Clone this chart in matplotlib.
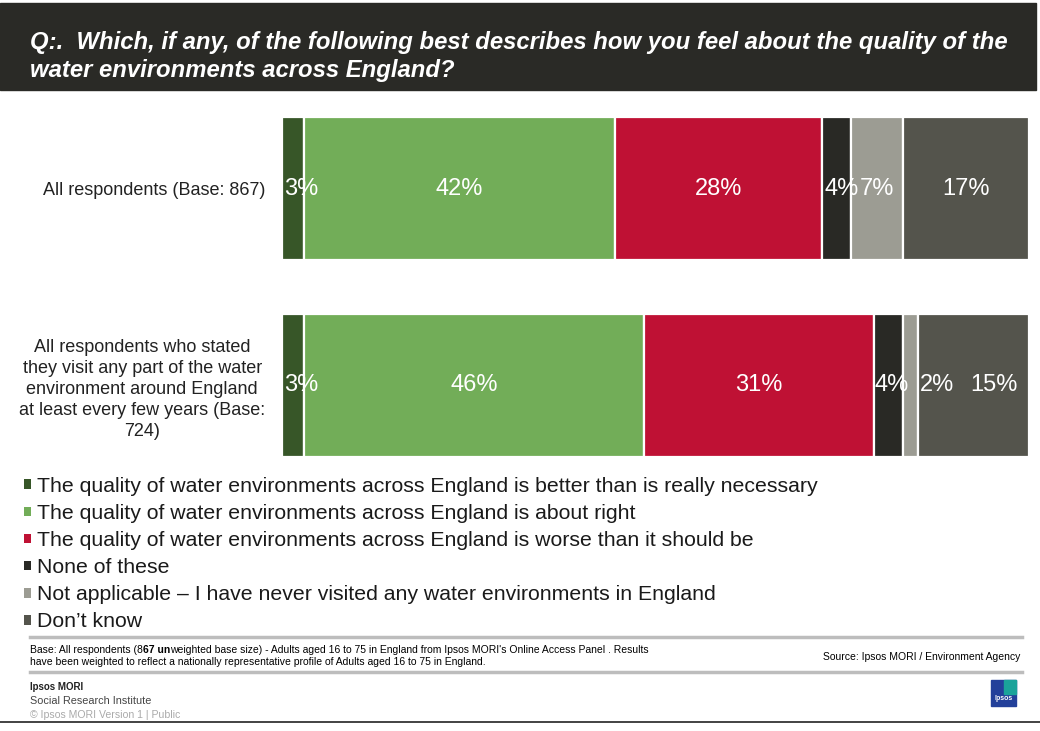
import matplotlib.pyplot as plt
from matplotlib.patches import Rectangle, Patch

plt.rcParams['font.family'] = ['Liberation Sans', 'DejaVu Sans']

groups = ["All respondents (Base: 867)",
          "All respondents who stated\nthey visit any part of the water\nenvironment around England\nat least every few years (Base:\n724)"]
answers = ["The quality of water environments across England is better than is really necessary",
           "The quality of water environments across England is about right",
           "The quality of water environments across England is worse than it should be",
           "None of these",
           "Not applicable \u2013 I have never visited any water environments in England",
           "Don\u2019t know"]
pct_all = [3, 42, 28, 4, 7, 17]
pct_visitors = [3, 46, 31, 4, 2, 15]
colors = ["#375628", "#72ad58", "#bf1134", "#292925", "#9c9c93", "#54544c"]

# nudges (px) for labels that would otherwise collide in thin segments
nudge = [[8, 0, 0, 5, 0, 0],
         [8, 0, 0, 3, 26, 20]]

W, H = 1040, 731
fig = plt.figure(figsize=(W / 100, H / 100), dpi=100)
renderer = fig.canvas.get_renderer()


def fit_width(t, width_px):
    # shrink/grow a text so it spans the given pixel width
    w = t.get_window_extent(renderer).width
    t.set_fontsize(t.get_fontsize() * width_px / w)


# background layer in pixel units for the title block, rules and footer
bg = fig.add_axes([0, 0, 1, 1])
bg.set_xlim(0, W)
bg.set_ylim(H, 0)
bg.axis('off')
bg.add_patch(Rectangle((0, 3), 1036, 87, color="#2a2a26"))
t1 = bg.text(30, 43, "Q:.  Which, if any, of the following best describes how you feel about the quality of the",
             color="white", fontsize=17, fontweight='bold', style='italic', va='center')
fit_width(t1, 978)
bg.text(30, 71, "water environments across England?", color="white", fontsize=t1.get_fontsize(),
        fontweight='bold', style='italic', va='center')

# stacked bars
ax = fig.add_axes([282 / W, 1 - 457 / H, (1029 - 282) / W, 340 / H])
h = 0.728
rows = [pct_all, pct_visitors]
for i, vals in enumerate(rows):
    left = 0
    for j, v in enumerate(vals):
        ax.barh(i, v, left=left, height=h, color=colors[j], edgecolor='white', linewidth=1.6)
        ax.annotate(f"{v}%", (left + v / 2, i), xytext=(nudge[i][j] * 0.72, 0),
                    textcoords='offset points', color='white', fontsize=17,
                    ha='center', va='center')
        left += v
ax.set_xlim(0, sum(pct_all))
ax.set_ylim(1 + h / 2, -h / 2)
ax.set_yticks(range(len(groups)))
ax.set_yticklabels(groups, fontsize=13, color="#222222")
for lab in ax.get_yticklabels():
    lab.set_multialignment('center')
    lab.set_linespacing(1.3)
ax.tick_params(axis='y', length=0, pad=12)
ax.set_xticks([])
for s in ax.spines.values():
    s.set_visible(False)

handles = [Patch(facecolor=c, edgecolor='none') for c in colors]
fig.legend(handles, answers, loc='upper left', bbox_to_anchor=(24 / W, 1 - 477 / H),
           frameon=False, fontsize=15.3, handlelength=0.33, handleheight=0.33,
           handletextpad=0.3, labelspacing=0.38, borderaxespad=0, borderpad=0,
           labelcolor="#1a1a1a")

# footer
bg.plot([30, 1022], [637, 637], color="#bdbdbd", lw=2.5)
bg.plot([30, 1022], [672, 672], color="#bdbdbd", lw=2.5)
bg.plot([0, 1040], [722, 722], color="#222222", lw=1.2)
fs = 7.5
a = bg.text(30, 650, "Base: All respondents (8", fontsize=fs, va='center')
b = bg.annotate("67 un", xy=(1, 0), xycoords=a, va='bottom', fontsize=fs, fontweight='bold')
bg.annotate("weighted base size) - Adults aged 16 to 75 in England from Ipsos MORI's Online Access Panel . Results",
            xy=(1, 0), xycoords=b, va='bottom', fontsize=fs)
bg.text(30, 662, "have been weighted to reflect a nationally representative profile of Adults aged 16 to 75 in England.",
        fontsize=fs, va='center')
bg.text(1020, 657, "Source: Ipsos MORI / Environment Agency", fontsize=fs, va='center', ha='right')
bg.text(30, 687, "Ipsos MORI", fontsize=7, fontweight='bold', va='center', color="#222222")
bg.text(30, 701, "Social Research Institute", fontsize=7.8, va='center', color="#444444")
bg.text(30, 715, "\u00a9 Ipsos MORI Version 1 | Public", fontsize=7.6, va='center', color="#aaaaaa")

# logo
bg.add_patch(Rectangle((991, 680), 25, 26, color="#23409a"))
bg.add_patch(Rectangle((1004, 680), 12, 14, color="#1aa39a"))
bg.text(1003.5, 698, "Ipsos", fontsize=5, color='white', ha='center', va='center', fontweight='bold')

fig.savefig("out.png", dpi=100)
